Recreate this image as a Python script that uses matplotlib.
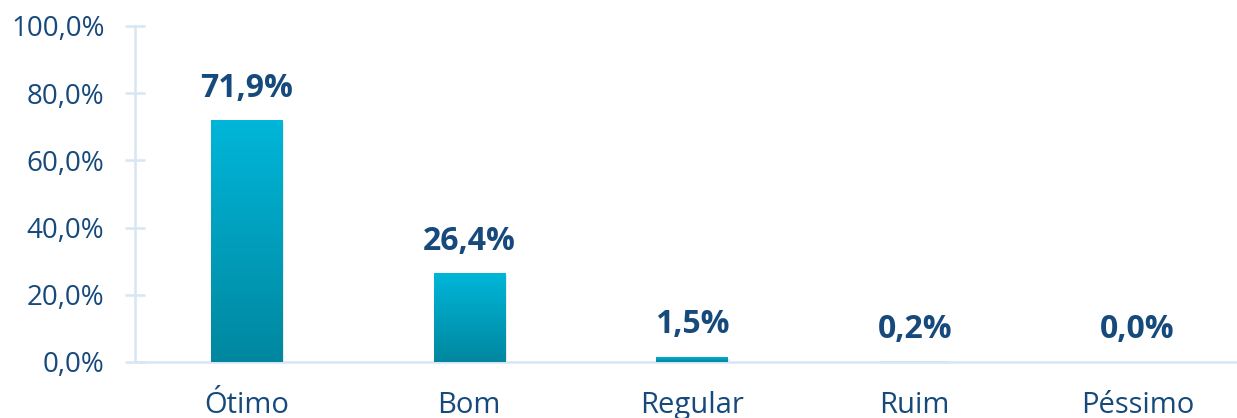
import numpy as np
import matplotlib
matplotlib.use("Agg")
import matplotlib.pyplot as plt
import matplotlib.patheffects as pe
from matplotlib.colors import LinearSegmentedColormap
from matplotlib.ticker import FuncFormatter, MultipleLocator

categories = ["Ótimo", "Bom", "Regular", "Ruim", "Péssimo"]
values = [71.9, 26.4, 1.5, 0.2, 0.0]

text_color = "#174a7c"
axis_color = "#d8e5f2"
bar_top = "#00b6d9"
bar_bottom = "#00879f"

plt.rcParams["font.family"] = ["Open Sans", "DejaVu Sans"]

fig = plt.figure(figsize=(12.37, 4.18), dpi=100)
ax = fig.add_axes([135 / 1237, 56 / 418, 1114 / 1237, 336 / 418])

x = np.arange(len(categories))
bars = ax.bar(x, values, width=0.32, color=bar_top, zorder=2,
              path_effects=[pe.SimplePatchShadow(offset=(1.5, -1.5), shadow_rgbFace="#999999", alpha=0.2),
                            pe.Normal()])

# vertical gradient inside each bar, spanning the bar's own height
cmap = LinearSegmentedColormap.from_list("bar_grad", [bar_bottom, bar_top])
grad = np.linspace(0, 1, 256).reshape(-1, 1)
for b in bars:
    h = b.get_height()
    if h < 1:
        b.set_facecolor("#bfe6f2")
        b.set_path_effects([])
        continue
    x0 = b.get_x()
    im = ax.imshow(grad, cmap=cmap, origin="lower", aspect="auto",
                   extent=[x0, x0 + b.get_width(), 0, h], zorder=3)
    im.set_clip_path(b)

for xi, v in zip(x, values):
    ax.annotate(f"{v:.1f}%".replace(".", ","), (xi, v), xytext=(0, 32),
                textcoords="offset pixels", ha="center", va="center",
                fontsize=23, fontweight="bold", color=text_color)

ax.set_xlim(-0.5, len(categories) - 0.5)
ax.set_ylim(0, 100)
ax.yaxis.set_major_locator(MultipleLocator(20))
ax.yaxis.set_major_formatter(FuncFormatter(lambda v, _: f"{v:.1f}%".replace(".", ",")))
ax.set_xticks(x)
ax.set_xticklabels(categories)

for s in ["top", "right"]:
    ax.spines[s].set_visible(False)
for s in ["left", "bottom"]:
    ax.spines[s].set_color(axis_color)
    ax.spines[s].set_linewidth(1.8)

ax.tick_params(axis="y", direction="inout", length=14, width=1.8, color=axis_color,
               pad=15, labelsize=20, labelcolor=text_color)
ax.tick_params(axis="x", length=0, pad=21, labelsize=21, labelcolor=text_color)

fig.savefig("out.png", dpi=100)
